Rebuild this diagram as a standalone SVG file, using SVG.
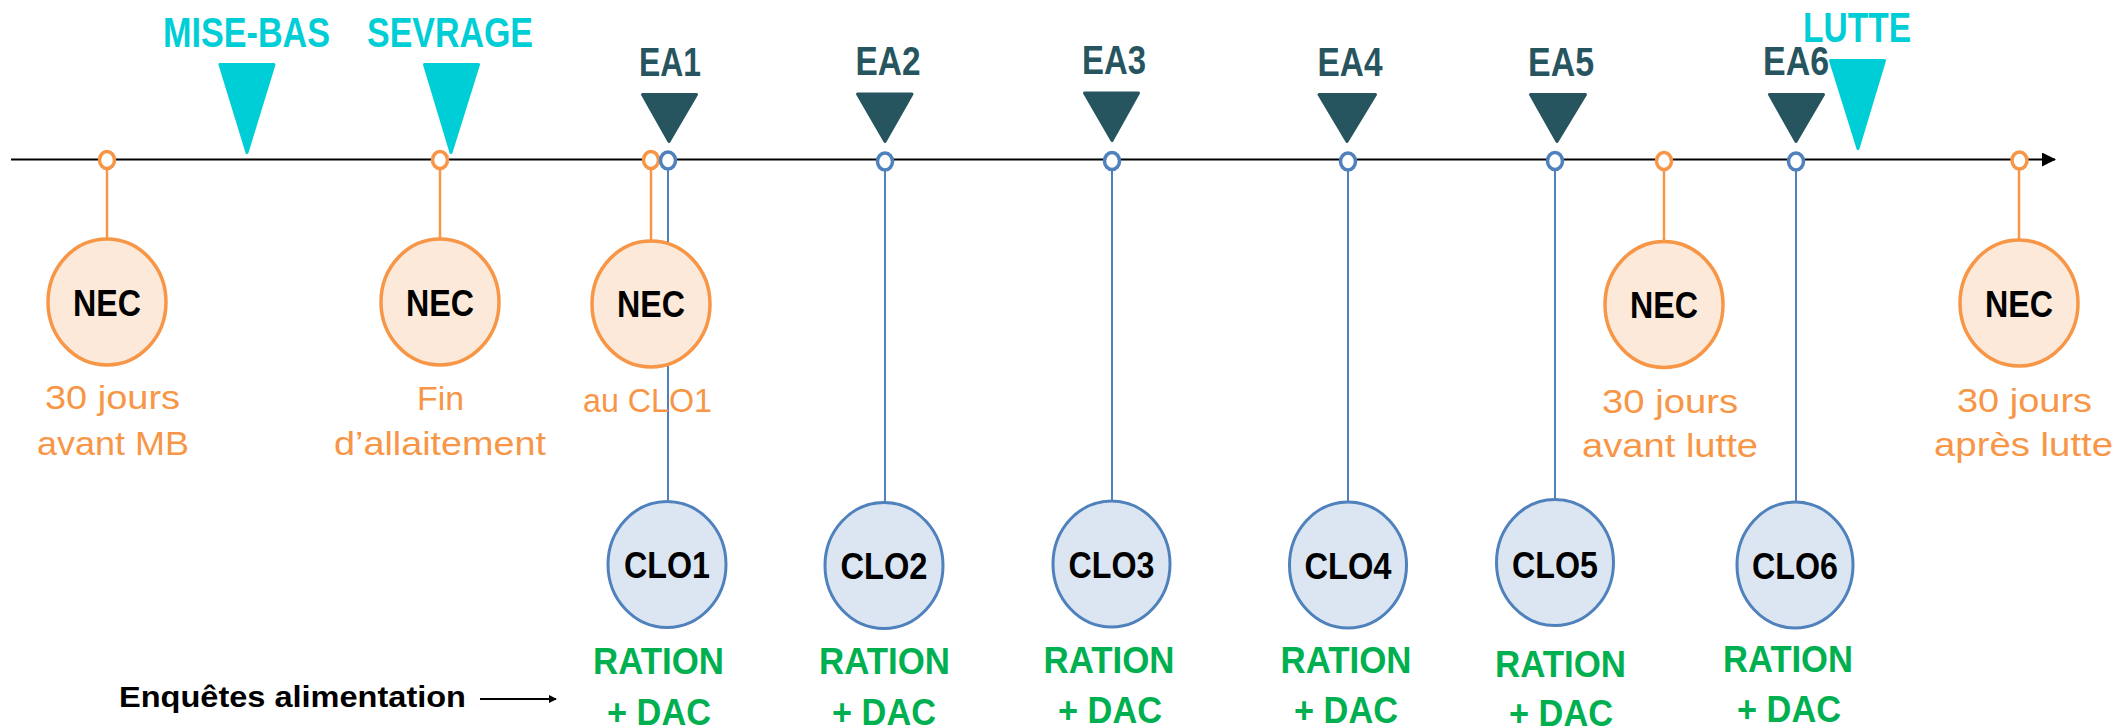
<svg xmlns="http://www.w3.org/2000/svg" width="2119" height="728" viewBox="0 0 2119 728">
<style>
.tl{stroke:#000;stroke-width:2.2;fill:none}
.vo{stroke:#F79646;stroke-width:2.5;fill:none}
.vb{stroke:#4F81BD;stroke-width:2;fill:none}
.dot-o{fill:#fff;stroke:#F79646;stroke-width:3.5}
.dot-b{fill:#fff;stroke:#4F81BD;stroke-width:3.5}
.nec{fill:#FDE9D9;stroke:#F79646;stroke-width:3.5}
.clo{fill:#DCE6F2;stroke:#4F81BD;stroke-width:3}
.tc{fill:#00CED6;stroke:#00CED6;stroke-width:3;stroke-linejoin:round}
.td{fill:#27555F;stroke:#27555F;stroke-width:3;stroke-linejoin:round}
.lc{font-family:"Liberation Sans",Arial,sans-serif;font-weight:bold;font-size:42px;fill:#00CED6;text-anchor:middle}
.ld{font-family:"Liberation Sans",Arial,sans-serif;font-weight:bold;font-size:40px;fill:#27555F;text-anchor:middle}
.nt{font-family:"Liberation Sans",Arial,sans-serif;font-weight:bold;font-size:37px;fill:#000;text-anchor:middle}
.ot{font-family:"Liberation Sans",Arial,sans-serif;font-size:33px;fill:#F79646;text-anchor:middle}
.gt{font-family:"Liberation Sans",Arial,sans-serif;font-weight:bold;font-size:37px;fill:#00B050;text-anchor:middle}
.et{font-family:"Liberation Sans",Arial,sans-serif;font-weight:bold;font-size:30px;fill:#000}
</style>
<defs>
<marker id="ah" markerWidth="8" markerHeight="8" refX="7" refY="4" orient="auto" markerUnits="userSpaceOnUse"><path d="M0,0 L8,4 L0,8 Z" fill="#000"/></marker>
<marker id="ah2" markerWidth="14" markerHeight="14" refX="13" refY="7" orient="auto" markerUnits="userSpaceOnUse"><path d="M0,0 L14,7 L0,14 Z" fill="#000"/></marker>
</defs>

<g id="connectors">
<line class="tl" x1="11" y1="159.5" x2="2055" y2="159.5" marker-end="url(#ah2)"/>
<line class="vo" x1="107" y1="168" x2="107" y2="240"/>
<line class="vo" x1="440" y1="168" x2="440" y2="240"/>
<line class="vo" x1="651" y1="168" x2="651" y2="241"/>
<line class="vo" x1="1664" y1="168" x2="1664" y2="242"/>
<line class="vo" x1="2019" y1="168" x2="2019" y2="241"/>
<line class="vb" x1="668" y1="169" x2="668" y2="502"/>
<line class="vb" x1="885" y1="170" x2="885" y2="503"/>
<line class="vb" x1="1112" y1="170" x2="1112" y2="502"/>
<line class="vb" x1="1348" y1="170" x2="1348" y2="503"/>
<line class="vb" x1="1555" y1="170" x2="1555" y2="500"/>
<line class="vb" x1="1796" y1="170" x2="1796" y2="503"/>
<line x1="480" y1="699" x2="556" y2="699" stroke="#000" stroke-width="1.8" marker-end="url(#ah)"/>
</g>

<g id="events">
<g id="mise-bas"><polygon class="tc" points="220,64.5 274,64.5 247,152.5"/><text class="lc" x="246.5" y="47" textLength="167" lengthAdjust="spacingAndGlyphs">MISE-BAS</text></g>
<g id="sevrage"><polygon class="tc" points="424.5,64.5 478.5,64.5 451,152.5"/><text class="lc" x="450" y="47" textLength="166" lengthAdjust="spacingAndGlyphs">SEVRAGE</text></g>
<g id="lutte"><polygon class="tc" points="1830.5,60.5 1884.5,60.5 1858,148.5"/><text class="lc" x="1857" y="42" textLength="108" lengthAdjust="spacingAndGlyphs">LUTTE</text></g>
<g id="ea1"><polygon class="td" points="642.5,94.5 696.5,94.5 669,141.5"/><text class="ld" x="670" y="76" textLength="62" lengthAdjust="spacingAndGlyphs">EA1</text></g>
<g id="ea2"><polygon class="td" points="857.5,94 912,94 885,141.5"/><text class="ld" x="888" y="75" textLength="65" lengthAdjust="spacingAndGlyphs">EA2</text></g>
<g id="ea3"><polygon class="td" points="1084.5,93 1138.5,93 1112,140.5"/><text class="ld" x="1114" y="74" textLength="64" lengthAdjust="spacingAndGlyphs">EA3</text></g>
<g id="ea4"><polygon class="td" points="1319,94.5 1375.5,94.5 1347,141.5"/><text class="ld" x="1350" y="76" textLength="65" lengthAdjust="spacingAndGlyphs">EA4</text></g>
<g id="ea5"><polygon class="td" points="1530.5,94.5 1585.5,94.5 1557,141.5"/><text class="ld" x="1561" y="76" textLength="66" lengthAdjust="spacingAndGlyphs">EA5</text></g>
<g id="ea6"><polygon class="td" points="1769.5,94.5 1823.5,94.5 1796,141.5"/><text class="ld" x="1796" y="75" textLength="66" lengthAdjust="spacingAndGlyphs">EA6</text></g>
</g>

<g id="timeline-dots">
<ellipse class="dot-o" cx="107" cy="160" rx="7.5" ry="8.5"/>
<ellipse class="dot-o" cx="440" cy="160" rx="7.5" ry="8.5"/>
<ellipse class="dot-o" cx="651" cy="160" rx="7.5" ry="8.5"/>
<ellipse class="dot-b" cx="668" cy="160.5" rx="7.5" ry="8.5"/>
<ellipse class="dot-b" cx="885" cy="161.5" rx="7.5" ry="8.5"/>
<ellipse class="dot-b" cx="1112" cy="161" rx="7.5" ry="8.5"/>
<ellipse class="dot-b" cx="1348" cy="161.5" rx="7.5" ry="8.5"/>
<ellipse class="dot-b" cx="1555" cy="161" rx="7.5" ry="8.5"/>
<ellipse class="dot-o" cx="1664" cy="161" rx="7.5" ry="8.5"/>
<ellipse class="dot-b" cx="1796" cy="161.5" rx="7.5" ry="8.5"/>
<ellipse class="dot-o" cx="2019.5" cy="160.5" rx="7.5" ry="8.5"/>
</g>

<g id="nec1"><ellipse class="nec" cx="107" cy="302" rx="59" ry="63"/><text class="nt" x="107" y="316" textLength="68" lengthAdjust="spacingAndGlyphs">NEC</text>
<text class="ot" x="112.5" y="409" textLength="135" lengthAdjust="spacingAndGlyphs">30 jours</text><text class="ot" x="113" y="455" textLength="152" lengthAdjust="spacingAndGlyphs">avant MB</text></g>
<g id="nec2"><ellipse class="nec" cx="440" cy="302" rx="59" ry="63"/><text class="nt" x="440" y="316" textLength="68" lengthAdjust="spacingAndGlyphs">NEC</text>
<text class="ot" x="440.5" y="410" textLength="47" lengthAdjust="spacingAndGlyphs">Fin</text><text class="ot" x="440" y="455" textLength="212" lengthAdjust="spacingAndGlyphs">d’allaitement</text></g>
<g id="nec3"><ellipse class="nec" cx="651" cy="304" rx="59" ry="63"/><text class="nt" x="651" y="317" textLength="68" lengthAdjust="spacingAndGlyphs">NEC</text>
<text class="ot" x="647.5" y="412" textLength="129" lengthAdjust="spacingAndGlyphs">au CLO1</text></g>
<g id="nec4"><ellipse class="nec" cx="1664" cy="304.5" rx="59" ry="63"/><text class="nt" x="1664" y="318" textLength="68" lengthAdjust="spacingAndGlyphs">NEC</text>
<text class="ot" x="1670" y="412.5" textLength="136" lengthAdjust="spacingAndGlyphs">30 jours</text><text class="ot" x="1670" y="456.5" textLength="176" lengthAdjust="spacingAndGlyphs">avant lutte</text></g>
<g id="nec5"><ellipse class="nec" cx="2019" cy="303" rx="59" ry="63"/><text class="nt" x="2019" y="317" textLength="68" lengthAdjust="spacingAndGlyphs">NEC</text>
<text class="ot" x="2024.5" y="411.5" textLength="135" lengthAdjust="spacingAndGlyphs">30 jours</text><text class="ot" x="2023.5" y="456" textLength="179" lengthAdjust="spacingAndGlyphs">après lutte</text></g>

<g id="clo1"><ellipse class="clo" cx="667" cy="564.5" rx="59" ry="63"/><text class="nt" x="667" y="578" textLength="86" lengthAdjust="spacingAndGlyphs">CLO1</text>
<text class="gt" x="658.5" y="674" textLength="131" lengthAdjust="spacingAndGlyphs">RATION</text><text class="gt" x="659" y="725" textLength="104" lengthAdjust="spacingAndGlyphs">+ DAC</text></g>
<g id="clo2"><ellipse class="clo" cx="884" cy="565.5" rx="59" ry="63"/><text class="nt" x="884" y="579" textLength="87" lengthAdjust="spacingAndGlyphs">CLO2</text>
<text class="gt" x="884.5" y="674" textLength="131" lengthAdjust="spacingAndGlyphs">RATION</text><text class="gt" x="884" y="725" textLength="104" lengthAdjust="spacingAndGlyphs">+ DAC</text></g>
<g id="clo3"><ellipse class="clo" cx="1111.5" cy="564" rx="58.5" ry="63"/><text class="nt" x="1111.5" y="578" textLength="86" lengthAdjust="spacingAndGlyphs">CLO3</text>
<text class="gt" x="1109" y="673" textLength="131" lengthAdjust="spacingAndGlyphs">RATION</text><text class="gt" x="1110" y="723" textLength="104" lengthAdjust="spacingAndGlyphs">+ DAC</text></g>
<g id="clo4"><ellipse class="clo" cx="1348" cy="565" rx="58.5" ry="63"/><text class="nt" x="1348" y="579" textLength="87" lengthAdjust="spacingAndGlyphs">CLO4</text>
<text class="gt" x="1346" y="673" textLength="131" lengthAdjust="spacingAndGlyphs">RATION</text><text class="gt" x="1346" y="723" textLength="104" lengthAdjust="spacingAndGlyphs">+ DAC</text></g>
<g id="clo5"><ellipse class="clo" cx="1555" cy="562.5" rx="58.5" ry="63"/><text class="nt" x="1555" y="578" textLength="86" lengthAdjust="spacingAndGlyphs">CLO5</text>
<text class="gt" x="1560.5" y="677" textLength="131" lengthAdjust="spacingAndGlyphs">RATION</text><text class="gt" x="1561" y="726" textLength="104" lengthAdjust="spacingAndGlyphs">+ DAC</text></g>
<g id="clo6"><ellipse class="clo" cx="1795" cy="565" rx="58" ry="63"/><text class="nt" x="1795" y="579" textLength="86" lengthAdjust="spacingAndGlyphs">CLO6</text>
<text class="gt" x="1788" y="672" textLength="130" lengthAdjust="spacingAndGlyphs">RATION</text><text class="gt" x="1789" y="722" textLength="104" lengthAdjust="spacingAndGlyphs">+ DAC</text></g>

<g id="legend"><text class="et" x="119" y="707" textLength="347" lengthAdjust="spacingAndGlyphs">Enquêtes alimentation</text></g>
</svg>
